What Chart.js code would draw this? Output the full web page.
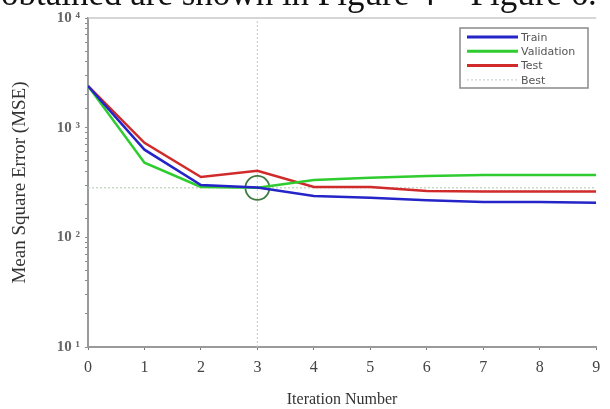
<!DOCTYPE html>
<html>
<head>
<meta charset="utf-8">
<script src="https://cdn.jsdelivr.net/npm/chart.js@4.4.1/dist/chart.umd.min.js"></script>
<style>
  html, body { margin: 0; padding: 0; background: #fff; }
  #wrap { position: relative; width: 610px; height: 409px; overflow: hidden; }
  #caption {
    position: absolute; left: 1px; top: -21px; white-space: nowrap;
    font-family: "Liberation Serif", serif; font-size: 35px; line-height: 30px; color: #111;
  }
  canvas { position: absolute; left: 0; top: 0; }
</style>
</head>
<body>
<div id="wrap">
  <canvas id="chart" width="610" height="409"></canvas>
  <div id="caption">obtained are shown in Figure 4 – Figure 6.</div>
</div>
<script>
// values (MSE, log scale)
const iterations = [0, 1, 2, 3, 4, 5, 6, 7, 8, 9];
const trainMSE = [2400, 630, 300, 285, 238, 229, 218, 210, 210, 207];
const validationMSE = [2400, 480, 288, 283, 333, 350, 363, 370, 370, 370];
const testMSE = [2400, 728, 355, 404, 288, 288, 264, 262, 262, 262];
const bestEpoch = 3;
const bestPerf = 283;
const decadeTicks = [10, 100, 1000, 10000];
const supers = { 1: '¹', 2: '²', 3: '³', 4: '⁴' };

const toPoints = (arr) => iterations.map((it, i) => ({ x: it, y: arr[i] }));

// draws the boxed legend inside the plot, top right
const boxLegend = {
    id: 'boxLegend',
    afterDraw(chart) {
        const ctx = chart.ctx;
        const items = chart.data.datasets.filter(d => d.inLegend);
        const x0 = 460, y0 = 28, w = 128, h = 60;
        ctx.save();
        ctx.fillStyle = '#fff';
        ctx.fillRect(x0, y0, w, h);
        ctx.strokeStyle = '#8a8a8a';
        ctx.lineWidth = 1.5;
        ctx.strokeRect(x0, y0, w, h);
        ctx.font = '11px "DejaVu Sans", sans-serif';
        ctx.textBaseline = 'middle';
        items.forEach((d, i) => {
            const y = y0 + 9 + i * 14.3;
            ctx.beginPath();
            ctx.strokeStyle = d.borderColor;
            ctx.lineWidth = d.legendWidth || 3;
            ctx.setLineDash(d.borderDash || []);
            ctx.moveTo(467, y);
            ctx.lineTo(518, y);
            ctx.stroke();
            ctx.setLineDash([]);
            ctx.fillStyle = '#555';
            ctx.fillText(d.label, 521, y + 1);
        });
        ctx.restore();
    }
};

// thin top border of the axes box
const topBorder = {
    id: 'topBorder',
    beforeDatasetsDraw(chart) {
        const a = chart.chartArea, ctx = chart.ctx;
        ctx.save();
        ctx.strokeStyle = '#c8c8c8';
        ctx.lineWidth = 1.5;
        ctx.beginPath();
        ctx.moveTo(a.left, a.top);
        ctx.lineTo(a.right, a.top);
        ctx.stroke();
        ctx.restore();
    }
};

new Chart(document.getElementById('chart'), {
    type: 'line',
    data: {
        datasets: [
            {
                label: 'Train', inLegend: true,
                data: toPoints(trainMSE),
                borderColor: '#2424c8', borderWidth: 2.5, pointRadius: 0, tension: 0
            },
            {
                label: 'Validation', inLegend: true,
                data: toPoints(validationMSE),
                borderColor: '#2ecc2e', borderWidth: 2.5, pointRadius: 0, tension: 0
            },
            {
                label: 'Test', inLegend: true,
                data: toPoints(testMSE),
                borderColor: '#d02a2a', borderWidth: 2.5, pointRadius: 0, tension: 0
            },
            {
                label: 'Best', inLegend: true, legendWidth: 1,
                data: [{ x: iterations[0], y: bestPerf }, { x: iterations[iterations.length - 1], y: bestPerf }],
                borderColor: '#b9cfb9', borderWidth: 1.2, borderDash: [2, 2], pointRadius: 0
            },
            {
                label: 'best epoch',
                data: [{ x: bestEpoch, y: decadeTicks[0] }, { x: bestEpoch, y: decadeTicks[decadeTicks.length - 1] }],
                borderColor: '#d0d0d0', borderWidth: 1.2, borderDash: [2, 2], pointRadius: 0
            },
            {
                label: 'best point',
                data: [{ x: bestEpoch, y: bestPerf }],
                showLine: false, pointRadius: 12, pointBorderWidth: 1.8,
                pointBorderColor: '#3f7a3f', pointBackgroundColor: 'rgba(0,0,0,0)'
            }
        ]
    },
    options: {
        responsive: false,
        animation: false,
        layout: { padding: { top: 18, right: 8, left: 0, bottom: 0 } },
        plugins: { legend: { display: false }, tooltip: { enabled: false } },
        scales: {
            x: {
                type: 'linear', min: 0, max: 9,
                afterBuildTicks: (s) => { s.ticks = iterations.map(v => ({ value: v })); },
                afterFit: (s) => { s.height = 62; s.paddingRight = 0; },
                border: { color: '#9a9a9a', width: 2 },
                grid: { drawOnChartArea: false, color: '#777', tickLength: 3 },
                ticks: {
                    color: '#444', padding: 8,
                    font: { family: '"Liberation Serif", serif', size: 16 }
                },
                title: {
                    display: true, text: 'Iteration Number', color: '#333',
                    font: { family: '"Liberation Serif", serif', size: 16 },
                    padding: { top: 3, bottom: 0 }
                }
            },
            y: {
                type: 'logarithmic', min: 10, max: 10000,
                afterFit: (s) => { s.width = 88; },
                border: { color: '#9a9a9a', width: 2 },
                grid: { drawOnChartArea: false, color: '#888', tickLength: 3 },
                ticks: {
                    color: '#666', padding: 5, autoSkip: false,
                    font: { family: '"Liberation Serif", serif', size: 15, weight: 'bold' },
                    callback: (v) => {
                        const e = Math.round(Math.log10(v));
                        return decadeTicks.includes(v) ? '10 ' + supers[e] : '';
                    }
                },
                title: {
                    display: true, text: 'Mean Square Error (MSE)', color: '#333',
                    font: { family: '"Liberation Serif", serif', size: 19 },
                    padding: { top: 9, bottom: 0 }
                }
            }
        }
    },
    plugins: [topBorder, boxLegend]
});
</script>
</body>
</html>
